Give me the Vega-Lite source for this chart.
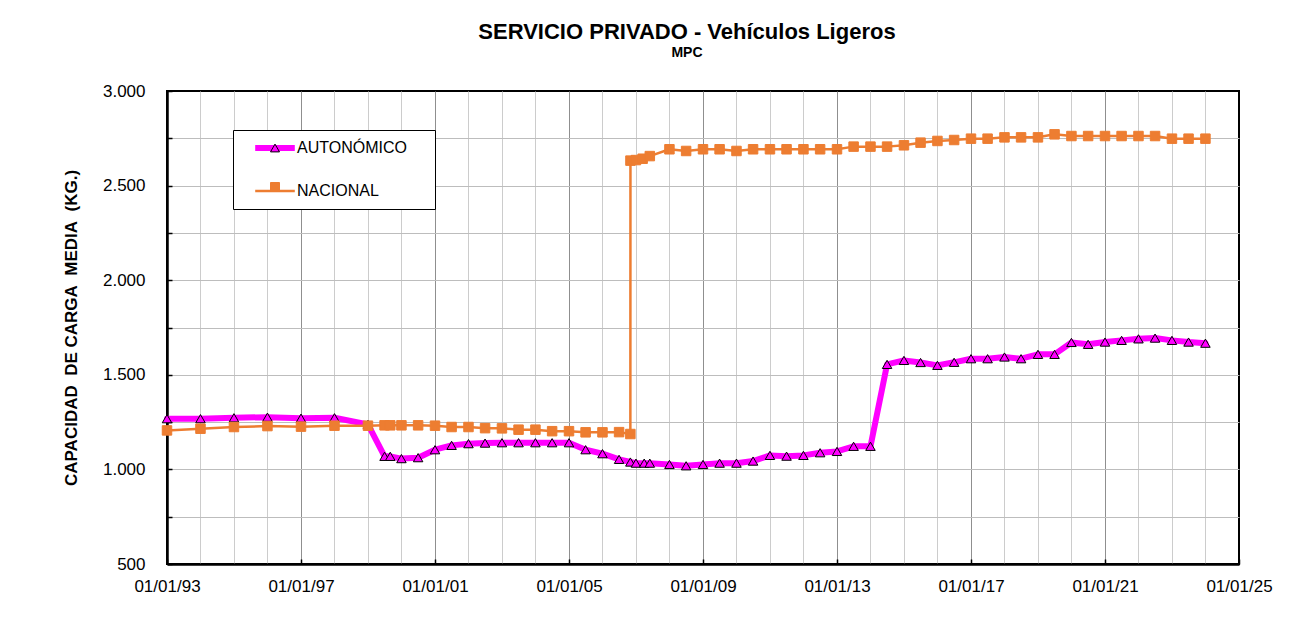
{
  "$schema": "https://vega.github.io/schema/vega-lite/v6.json",
  "width": 1072,
  "height": 473,
  "autosize": {"type": "none"},
  "padding": {"left": 167, "top": 91, "right": 58, "bottom": 57},
  "background": "white",
  "title": {
    "text": "SERVICIO PRIVADO - Vehículos Ligeros",
    "subtitle": "MPC",
    "anchor": "middle",
    "dx": -16,
    "offset": 21,
    "font": "Liberation Sans",
    "fontSize": 22,
    "fontWeight": "bold",
    "color": "black",
    "subtitleFont": "Liberation Sans",
    "subtitleFontSize": 14,
    "subtitleFontWeight": "bold",
    "subtitleColor": "black",
    "subtitlePadding": 2
  },
  "data": {
    "values": [
      {"fecha": "1993-01-01", "serie": "AUTONÓMICO", "valor": 1268},
      {"fecha": "1994-01-01", "serie": "AUTONÓMICO", "valor": 1268},
      {"fecha": "1995-01-01", "serie": "AUTONÓMICO", "valor": 1273},
      {"fecha": "1996-01-01", "serie": "AUTONÓMICO", "valor": 1276},
      {"fecha": "1997-01-01", "serie": "AUTONÓMICO", "valor": 1271},
      {"fecha": "1998-01-01", "serie": "AUTONÓMICO", "valor": 1273},
      {"fecha": "1999-01-01", "serie": "AUTONÓMICO", "valor": 1238},
      {"fecha": "1999-07-01", "serie": "AUTONÓMICO", "valor": 1069},
      {"fecha": "1999-09-01", "serie": "AUTONÓMICO", "valor": 1069},
      {"fecha": "2000-01-01", "serie": "AUTONÓMICO", "valor": 1057},
      {"fecha": "2000-07-01", "serie": "AUTONÓMICO", "valor": 1062},
      {"fecha": "2001-01-01", "serie": "AUTONÓMICO", "valor": 1104},
      {"fecha": "2001-07-01", "serie": "AUTONÓMICO", "valor": 1127},
      {"fecha": "2002-01-01", "serie": "AUTONÓMICO", "valor": 1136},
      {"fecha": "2002-07-01", "serie": "AUTONÓMICO", "valor": 1139},
      {"fecha": "2003-01-01", "serie": "AUTONÓMICO", "valor": 1141},
      {"fecha": "2003-07-01", "serie": "AUTONÓMICO", "valor": 1141},
      {"fecha": "2004-01-01", "serie": "AUTONÓMICO", "valor": 1141},
      {"fecha": "2004-07-01", "serie": "AUTONÓMICO", "valor": 1141},
      {"fecha": "2005-01-01", "serie": "AUTONÓMICO", "valor": 1141},
      {"fecha": "2005-07-01", "serie": "AUTONÓMICO", "valor": 1104},
      {"fecha": "2006-01-01", "serie": "AUTONÓMICO", "valor": 1083},
      {"fecha": "2006-07-01", "serie": "AUTONÓMICO", "valor": 1053},
      {"fecha": "2006-11-01", "serie": "AUTONÓMICO", "valor": 1039},
      {"fecha": "2007-01-01", "serie": "AUTONÓMICO", "valor": 1033},
      {"fecha": "2007-04-01", "serie": "AUTONÓMICO", "valor": 1033},
      {"fecha": "2007-06-01", "serie": "AUTONÓMICO", "valor": 1033},
      {"fecha": "2008-01-01", "serie": "AUTONÓMICO", "valor": 1026},
      {"fecha": "2008-07-01", "serie": "AUTONÓMICO", "valor": 1019},
      {"fecha": "2009-01-01", "serie": "AUTONÓMICO", "valor": 1026},
      {"fecha": "2009-07-01", "serie": "AUTONÓMICO", "valor": 1033},
      {"fecha": "2010-01-01", "serie": "AUTONÓMICO", "valor": 1033},
      {"fecha": "2010-07-01", "serie": "AUTONÓMICO", "valor": 1044},
      {"fecha": "2011-01-01", "serie": "AUTONÓMICO", "valor": 1074},
      {"fecha": "2011-07-01", "serie": "AUTONÓMICO", "valor": 1070},
      {"fecha": "2012-01-01", "serie": "AUTONÓMICO", "valor": 1074},
      {"fecha": "2012-07-01", "serie": "AUTONÓMICO", "valor": 1088},
      {"fecha": "2013-01-01", "serie": "AUTONÓMICO", "valor": 1095},
      {"fecha": "2013-07-01", "serie": "AUTONÓMICO", "valor": 1122},
      {"fecha": "2014-01-01", "serie": "AUTONÓMICO", "valor": 1122},
      {"fecha": "2014-07-01", "serie": "AUTONÓMICO", "valor": 1555},
      {"fecha": "2015-01-01", "serie": "AUTONÓMICO", "valor": 1576},
      {"fecha": "2015-07-01", "serie": "AUTONÓMICO", "valor": 1565},
      {"fecha": "2016-01-01", "serie": "AUTONÓMICO", "valor": 1550},
      {"fecha": "2016-07-01", "serie": "AUTONÓMICO", "valor": 1566},
      {"fecha": "2017-01-01", "serie": "AUTONÓMICO", "valor": 1585},
      {"fecha": "2017-07-01", "serie": "AUTONÓMICO", "valor": 1585},
      {"fecha": "2018-01-01", "serie": "AUTONÓMICO", "valor": 1594},
      {"fecha": "2018-07-01", "serie": "AUTONÓMICO", "valor": 1585},
      {"fecha": "2019-01-01", "serie": "AUTONÓMICO", "valor": 1608},
      {"fecha": "2019-07-01", "serie": "AUTONÓMICO", "valor": 1608},
      {"fecha": "2020-01-01", "serie": "AUTONÓMICO", "valor": 1671},
      {"fecha": "2020-07-01", "serie": "AUTONÓMICO", "valor": 1661},
      {"fecha": "2021-01-01", "serie": "AUTONÓMICO", "valor": 1673},
      {"fecha": "2021-07-01", "serie": "AUTONÓMICO", "valor": 1682},
      {"fecha": "2022-01-01", "serie": "AUTONÓMICO", "valor": 1690},
      {"fecha": "2022-07-01", "serie": "AUTONÓMICO", "valor": 1694},
      {"fecha": "2023-01-01", "serie": "AUTONÓMICO", "valor": 1682},
      {"fecha": "2023-07-01", "serie": "AUTONÓMICO", "valor": 1673},
      {"fecha": "2024-01-01", "serie": "AUTONÓMICO", "valor": 1667},
      {"fecha": "1993-01-01", "serie": "NACIONAL", "valor": 1206},
      {"fecha": "1994-01-01", "serie": "NACIONAL", "valor": 1215},
      {"fecha": "1995-01-01", "serie": "NACIONAL", "valor": 1224},
      {"fecha": "1996-01-01", "serie": "NACIONAL", "valor": 1229},
      {"fecha": "1997-01-01", "serie": "NACIONAL", "valor": 1226},
      {"fecha": "1998-01-01", "serie": "NACIONAL", "valor": 1231},
      {"fecha": "1999-01-01", "serie": "NACIONAL", "valor": 1231},
      {"fecha": "1999-07-01", "serie": "NACIONAL", "valor": 1233},
      {"fecha": "1999-09-01", "serie": "NACIONAL", "valor": 1233},
      {"fecha": "2000-01-01", "serie": "NACIONAL", "valor": 1233},
      {"fecha": "2000-07-01", "serie": "NACIONAL", "valor": 1233},
      {"fecha": "2001-01-01", "serie": "NACIONAL", "valor": 1231},
      {"fecha": "2001-07-01", "serie": "NACIONAL", "valor": 1224},
      {"fecha": "2002-01-01", "serie": "NACIONAL", "valor": 1224},
      {"fecha": "2002-07-01", "serie": "NACIONAL", "valor": 1218},
      {"fecha": "2003-01-01", "serie": "NACIONAL", "valor": 1217},
      {"fecha": "2003-07-01", "serie": "NACIONAL", "valor": 1210},
      {"fecha": "2004-01-01", "serie": "NACIONAL", "valor": 1210},
      {"fecha": "2004-07-01", "serie": "NACIONAL", "valor": 1202},
      {"fecha": "2005-01-01", "serie": "NACIONAL", "valor": 1202},
      {"fecha": "2005-07-01", "serie": "NACIONAL", "valor": 1196},
      {"fecha": "2006-01-01", "serie": "NACIONAL", "valor": 1196},
      {"fecha": "2006-07-01", "serie": "NACIONAL", "valor": 1197},
      {"fecha": "2006-11-01", "serie": "NACIONAL", "valor": 1187},
      {"fecha": "2006-11-02", "serie": "NACIONAL", "valor": 2632},
      {"fecha": "2007-01-01", "serie": "NACIONAL", "valor": 2635},
      {"fecha": "2007-03-15", "serie": "NACIONAL", "valor": 2642},
      {"fecha": "2007-06-01", "serie": "NACIONAL", "valor": 2656},
      {"fecha": "2008-01-01", "serie": "NACIONAL", "valor": 2692},
      {"fecha": "2008-07-01", "serie": "NACIONAL", "valor": 2683},
      {"fecha": "2009-01-01", "serie": "NACIONAL", "valor": 2692},
      {"fecha": "2009-07-01", "serie": "NACIONAL", "valor": 2692},
      {"fecha": "2010-01-01", "serie": "NACIONAL", "valor": 2683},
      {"fecha": "2010-07-01", "serie": "NACIONAL", "valor": 2692},
      {"fecha": "2011-01-01", "serie": "NACIONAL", "valor": 2692},
      {"fecha": "2011-07-01", "serie": "NACIONAL", "valor": 2692},
      {"fecha": "2012-01-01", "serie": "NACIONAL", "valor": 2692},
      {"fecha": "2012-07-01", "serie": "NACIONAL", "valor": 2692},
      {"fecha": "2013-01-01", "serie": "NACIONAL", "valor": 2692},
      {"fecha": "2013-07-01", "serie": "NACIONAL", "valor": 2706},
      {"fecha": "2014-01-01", "serie": "NACIONAL", "valor": 2706},
      {"fecha": "2014-07-01", "serie": "NACIONAL", "valor": 2706},
      {"fecha": "2015-01-01", "serie": "NACIONAL", "valor": 2713},
      {"fecha": "2015-07-01", "serie": "NACIONAL", "valor": 2727},
      {"fecha": "2016-01-01", "serie": "NACIONAL", "valor": 2736},
      {"fecha": "2016-07-01", "serie": "NACIONAL", "valor": 2741},
      {"fecha": "2017-01-01", "serie": "NACIONAL", "valor": 2748},
      {"fecha": "2017-07-01", "serie": "NACIONAL", "valor": 2748},
      {"fecha": "2018-01-01", "serie": "NACIONAL", "valor": 2755},
      {"fecha": "2018-07-01", "serie": "NACIONAL", "valor": 2755},
      {"fecha": "2019-01-01", "serie": "NACIONAL", "valor": 2755},
      {"fecha": "2019-07-01", "serie": "NACIONAL", "valor": 2771},
      {"fecha": "2020-01-01", "serie": "NACIONAL", "valor": 2762},
      {"fecha": "2020-07-01", "serie": "NACIONAL", "valor": 2762},
      {"fecha": "2021-01-01", "serie": "NACIONAL", "valor": 2762},
      {"fecha": "2021-07-01", "serie": "NACIONAL", "valor": 2762},
      {"fecha": "2022-01-01", "serie": "NACIONAL", "valor": 2762},
      {"fecha": "2022-07-01", "serie": "NACIONAL", "valor": 2762},
      {"fecha": "2023-01-01", "serie": "NACIONAL", "valor": 2748},
      {"fecha": "2023-07-01", "serie": "NACIONAL", "valor": 2748},
      {"fecha": "2024-01-01", "serie": "NACIONAL", "valor": 2748}
    ]
  },
  "encoding": {
    "x": {
      "field": "fecha",
      "type": "temporal",
      "scale": {
        "type": "utc",
        "domain": [
          {"year": 1993, "month": 1, "date": 1, "utc": true},
          {"year": 2025, "month": 1, "date": 1, "utc": true}
        ],
        "nice": false
      },
      "axis": {
        "title": null,
        "format": "%d/%m/%y",
        "values": [
          {"year": 1993, "month": 1, "date": 1, "utc": true},
          {"year": 1994, "month": 1, "date": 1, "utc": true},
          {"year": 1995, "month": 1, "date": 1, "utc": true},
          {"year": 1996, "month": 1, "date": 1, "utc": true},
          {"year": 1997, "month": 1, "date": 1, "utc": true},
          {"year": 1998, "month": 1, "date": 1, "utc": true},
          {"year": 1999, "month": 1, "date": 1, "utc": true},
          {"year": 2000, "month": 1, "date": 1, "utc": true},
          {"year": 2001, "month": 1, "date": 1, "utc": true},
          {"year": 2002, "month": 1, "date": 1, "utc": true},
          {"year": 2003, "month": 1, "date": 1, "utc": true},
          {"year": 2004, "month": 1, "date": 1, "utc": true},
          {"year": 2005, "month": 1, "date": 1, "utc": true},
          {"year": 2006, "month": 1, "date": 1, "utc": true},
          {"year": 2007, "month": 1, "date": 1, "utc": true},
          {"year": 2008, "month": 1, "date": 1, "utc": true},
          {"year": 2009, "month": 1, "date": 1, "utc": true},
          {"year": 2010, "month": 1, "date": 1, "utc": true},
          {"year": 2011, "month": 1, "date": 1, "utc": true},
          {"year": 2012, "month": 1, "date": 1, "utc": true},
          {"year": 2013, "month": 1, "date": 1, "utc": true},
          {"year": 2014, "month": 1, "date": 1, "utc": true},
          {"year": 2015, "month": 1, "date": 1, "utc": true},
          {"year": 2016, "month": 1, "date": 1, "utc": true},
          {"year": 2017, "month": 1, "date": 1, "utc": true},
          {"year": 2018, "month": 1, "date": 1, "utc": true},
          {"year": 2019, "month": 1, "date": 1, "utc": true},
          {"year": 2020, "month": 1, "date": 1, "utc": true},
          {"year": 2021, "month": 1, "date": 1, "utc": true},
          {"year": 2022, "month": 1, "date": 1, "utc": true},
          {"year": 2023, "month": 1, "date": 1, "utc": true},
          {"year": 2024, "month": 1, "date": 1, "utc": true},
          {"year": 2025, "month": 1, "date": 1, "utc": true}
        ],
        "labelExpr": "utcyear(datum.value) % 4 === 1 ? datum.label : ''",
        "labelFont": "Liberation Sans",
        "labelFontSize": 17,
        "labelColor": "black",
        "labelPadding": 19,
        "labelFlush": false,
        "labelOverlap": false,
        "tickSize": -5,
        "tickColor": "black",
        "tickWidth": 1.5,
        "tickOpacity": {"condition": {"test": "utcyear(datum.value) % 4 === 1", "value": 1}, "value": 0},
        "domainColor": "black",
        "domainWidth": 2.5,
        "grid": true,
        "gridWidth": 1,
        "gridColor": {"condition": {"test": "utcyear(datum.value) % 4 === 1", "value": "#8f8f8f"}, "value": "#cccccc"},
        "gridOpacity": {"condition": {"test": "utcyear(datum.value) === 2025 || utcyear(datum.value) === 1993", "value": 0}, "value": 1}
      }
    },
    "y": {
      "field": "valor",
      "type": "quantitative",
      "scale": {"domain": [500, 3000], "nice": false, "zero": false},
      "axis": {
        "title": "CAPACIDAD\u00a0 DE CARGA\u00a0 MEDIA\u00a0 (KG.)",
        "titleFont": "Liberation Sans",
        "titleFontSize": 17,
        "titleFontWeight": "bold",
        "titleColor": "black",
        "titlePadding": 22,
        "values": [500, 750, 1000, 1250, 1500, 1750, 2000, 2250, 2500, 2750, 3000],
        "labelExpr": "datum.value % 500 === 0 ? replace(format(datum.value, ','), ',', '.') : ''",
        "labelFont": "Liberation Sans",
        "labelFontSize": 17,
        "labelColor": "black",
        "labelPadding": 27,
        "labelOverlap": false,
        "tickSize": -5,
        "tickColor": "black",
        "tickWidth": 1.5,
        "domainColor": "black",
        "domainWidth": 2.5,
        "grid": true,
        "gridWidth": 1,
        "gridColor": "#bdbdbd",
        "gridOpacity": {"condition": {"test": "datum.value === 3000 || datum.value === 500", "value": 0}, "value": 1}
      }
    }
  },
  "layer": [
    {
      "mark": {"type": "line", "strokeJoin": "round", "strokeCap": "round"},
      "encoding": {
        "color": {
          "field": "serie",
          "type": "nominal",
          "scale": {"range": ["#FF00FF", "#ED7D31"]},
          "legend": {
            "title": null,
            "orient": "none",
            "legendX": 66,
            "legendY": 39,
            "padding": 10,
            "rowPadding": 23,
            "strokeColor": "black",
            "fillColor": "white",
            "symbolType": "M-4.4,0H4.4",
            "symbolSize": 81,
            "symbolOffset": 24,
            "labelOffset": 14,
            "labelFont": "Liberation Sans",
            "labelFontSize": 16,
            "labelColor": "black",
            "labelExpr": "datum.label + '\u00a0\u00a0\u00a0\u00a0\u200b'",
            "encode": {
              "symbols": {
                "update": {
                  "fill": {"value": "transparent"},
                  "strokeWidth": {"signal": "datum.value === 'AUTONÓMICO' ? 6 : 2.5"}
                }
              }
            }
          }
        },
        "strokeWidth": {
          "field": "serie",
          "type": "nominal",
          "scale": {"range": [6, 2.5]},
          "legend": null
        }
      }
    },
    {
      "mark": {"type": "point", "size": 90, "strokeWidth": 1, "opacity": 1},
      "encoding": {
        "shape": {
          "field": "serie",
          "type": "nominal",
          "scale": {"domain": ["AUTONÓMICO", "NACIONAL"], "range": ["triangle-up", "square"]},
          "legend": {
            "title": null,
            "orient": "none",
            "legendX": 66,
            "legendY": 39,
            "padding": 10,
            "rowPadding": 23,
            "symbolSize": 81,
            "symbolStrokeWidth": 1,
            "symbolOffset": 24,
            "labelOffset": 14,
            "labelFont": "Liberation Sans",
            "labelFontSize": 16,
            "labelExpr": "''",
            "labelOpacity": 0
          }
        },
        "fill": {
          "field": "serie",
          "type": "nominal",
          "scale": {"domain": ["AUTONÓMICO", "NACIONAL"], "range": ["#FF00FF", "#ED7D31"]},
          "legend": {"title": null, "orient": "none", "legendX": 66, "legendY": 39}
        },
        "stroke": {
          "field": "serie",
          "type": "nominal",
          "scale": {"domain": ["AUTONÓMICO", "NACIONAL"], "range": ["#000000", "#ED7D31"]},
          "legend": {"title": null, "orient": "none", "legendX": 66, "legendY": 39}
        }
      }
    }
  ],
  "config": {
    "font": "Liberation Sans",
    "view": {"stroke": "black", "strokeWidth": 2}
  }
}
